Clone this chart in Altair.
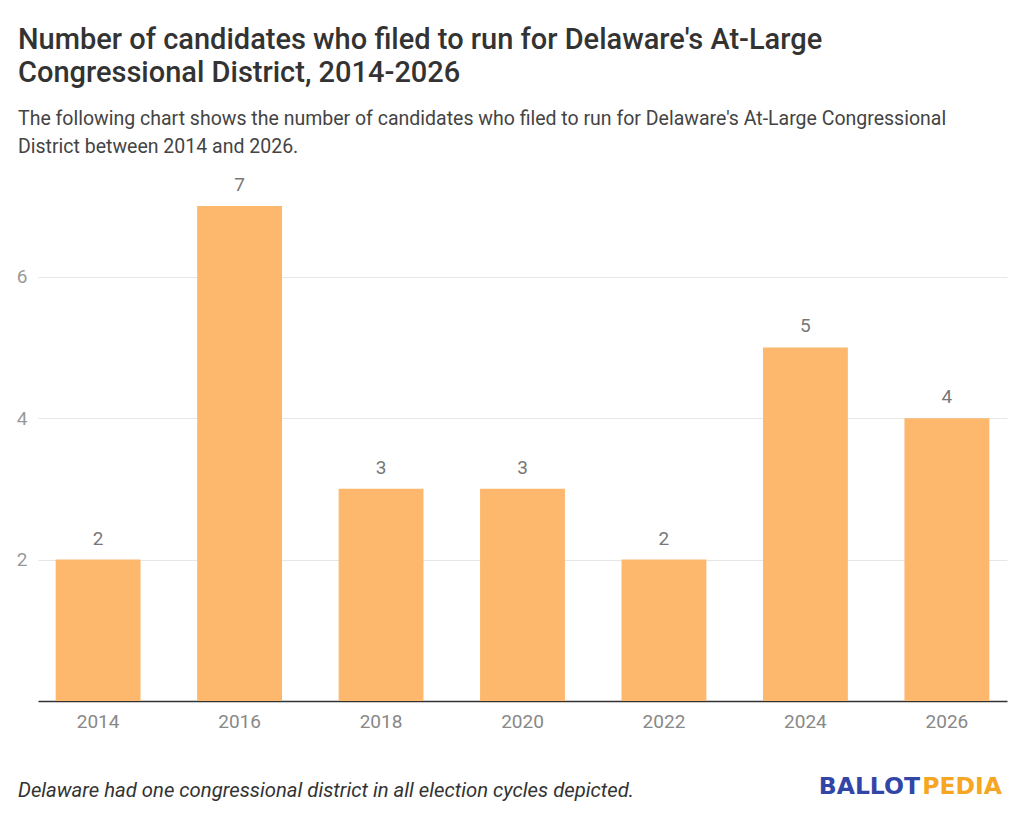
import altair as alt
import pandas as pd

years = ["2014", "2016", "2018", "2020", "2022", "2024", "2026"]
candidates = [2, 7, 3, 3, 2, 5, 4]
y_ticks = [2, 4, 6]

title_lines = [
    "Number of candidates who filed to run for Delaware's At-Large",
    "Congressional District, 2014-2026",
]
subtitle_lines = [
    "The following chart shows the number of candidates who filed to run for Delaware's At-Large Congressional",
    "District between 2014 and 2026.",
]
footnote = "Delaware had one congressional district in all election cycles depicted."

df = pd.DataFrame({"year": years, "candidates": candidates})

W, H = 969, 495
FONT = "Roboto"

base = alt.Chart(df).encode(
    x=alt.X(
        "year:N",
        sort=years,
        title=None,
        scale=alt.Scale(paddingInner=0.4, paddingOuter=0.125),
        axis=alt.Axis(
            labelAngle=0, labelFont=FONT, labelFontSize=19, labelColor="#888888",
            labelPadding=11, ticks=False, domainColor="#333333", domainWidth=1.5,
            grid=False,
        ),
    ),
    y=alt.Y(
        "candidates:Q",
        title=None,
        scale=alt.Scale(domain=[0, 7], nice=False),
        axis=alt.Axis(
            values=y_ticks, labelFont=FONT, labelFontSize=19, labelColor="#999999",
            labelPadding=11, ticks=False, domain=False, gridColor="#e6e6e6",
        ),
    ),
)

bars = base.mark_bar(color="#fdb86e")
labels = base.mark_text(dy=-21, font=FONT, fontSize=19, color="#777777").encode(
    text="candidates:Q"
)

note = alt.Chart(pd.DataFrame({"t": [footnote]})).mark_text(
    align="left", baseline="alphabetic", font=FONT, fontSize=20.3,
    fontStyle="italic", color="#333333",
).encode(x=alt.value(-20), y=alt.value(H + 96), text="t:N")

logo_a = alt.Chart(pd.DataFrame({"t": ["BALLOT"]})).mark_text(
    align="right", baseline="alphabetic", font="DejaVu Sans", fontSize=23.5,
    fontWeight="bold", color="#3246a8",
).encode(x=alt.value(882), y=alt.value(H + 93), text="t:N")

logo_b = alt.Chart(pd.DataFrame({"t": ["PEDIA"]})).mark_text(
    align="right", baseline="alphabetic", font="DejaVu Sans", fontSize=23.5,
    fontWeight="bold", color="#f6a623",
).encode(x=alt.value(964), y=alt.value(H + 93), text="t:N")

chart = alt.layer(bars, labels, note, logo_a, logo_b).properties(
    width=W,
    height=H,
    autosize=alt.AutoSizeParams(type="none"),
    padding={"left": 30, "top": 198, "right": 8, "bottom": 100},
    title=alt.TitleParams(
        text=title_lines,
        subtitle=subtitle_lines,
        anchor="start",
        frame="group",
        dx=-20,
        font=FONT,
        fontSize=29,
        fontWeight=500,
        color="#333333",
        lineHeight=33,
        subtitleFont=FONT,
        subtitleFontSize=19.5,
        subtitleColor="#444444",
        subtitleLineHeight=28,
        subtitlePadding=22,
        offset=20,
    ),
).configure_view(stroke=None)

chart.save("out.html", embed_options={"renderer": "svg", "actions": False})
